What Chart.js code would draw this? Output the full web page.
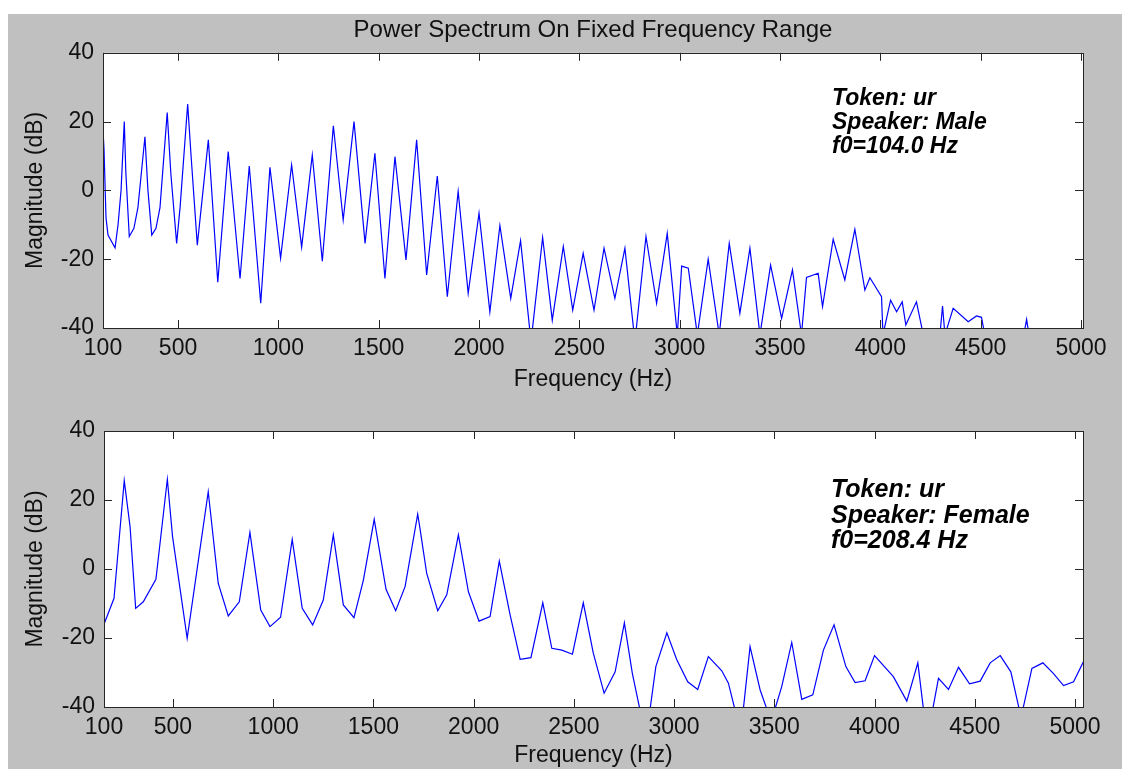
<!DOCTYPE html>
<html>
<head>
<meta charset="utf-8">
<title>Power Spectrum On Fixed Frequency Range</title>
<script src="https://cdn.jsdelivr.net/npm/chart.js"></script>
<style>
  html, body { margin: 0; padding: 0; background: #ffffff; }
  #figure { position: absolute; left: 8px; top: 14px; width: 1114px; height: 755px; background: #c0c0c0; }
  #male { position: absolute; left: 0; top: 0; }
  #female { position: absolute; left: 0; top: 390px; }
</style>
</head>
<body>
<div id="figure">
  <canvas id="male" width="1114" height="390"></canvas>
  <canvas id="female" width="1114" height="365"></canvas>
</div>
<script>
/* ---- data ---- */
const yTickValues = [-40, -20, 0, 20, 40];
const xTickValues = [500, 1000, 1500, 2000, 2500, 3000, 3500, 4000, 4500, 5000];
const xTickLabels = ['100', '500', '1000', '1500', '2000', '2500', '3000', '3500', '4000', '4500', '5000'];

// male speaker, f0 = 104 Hz
const maleFreq = [126, 131, 141, 151, 186, 201, 216, 232, 240, 257, 280, 300, 335, 350, 369, 390, 410, 446, 464, 493,
  510, 548, 565, 596, 651, 698, 750, 809, 855, 912, 958, 1011, 1066, 1116, 1169, 1219, 1274, 1323, 1377, 1432,
  1481, 1531, 1581, 1636, 1689, 1739, 1792, 1842, 1896, 1946, 2000, 2054, 2104, 2158, 2207, 2259, 2317, 2365, 2420, 2467,
  2519, 2573, 2623, 2677, 2727, 2777, 2832, 2885, 2938, 2988, 3010, 3043, 3088, 3142, 3197, 3247, 3300, 3350, 3400, 3453,
  3508, 3562, 3607, 3632, 3690, 3712, 3765, 3823, 3873, 3923, 3948, 4006, 4013, 4051, 4081, 4109, 4127, 4180, 4214, 4262,
  4297, 4310, 4322, 4363, 4438, 4479, 4504, 4521, 4715, 4729, 4741, 5010];
const maleDb = [17.6, 12, -8, -13, -16.7, -10, 0, 20, 5, -13.4, -11, -5, 15.6, 0, -13, -11, -5, 22.6, 5, -15.4,
  -5, 25.1, 10, -15.9, 14.7, -26.7, 11.3, -25.6, 7.1, -32.8, 6.7, -19.7, 7.4, -16.5, 10.3, -20.6, 18.8, -8.6, 20, -15.4,
  10.8, -25.6, 9.8, -20.2, 14.7, -24.6, 4.2, -30.9, -0.3, -29.9, -6.6, -35.3, -10.2, -31.4, -14.6, -44, -13.7, -37.7, -16.3, -34.8,
  -18.3, -34.8, -16.8, -31.4, -16.8, -44, -13.4, -32.8, -12.5, -42, -22, -22.6, -42, -20, -42, -15.4, -35.7, -16.8, -42, -21.7,
  -37.2, -23.1, -42, -25.3, -24.1, -33.8, -14.2, -26, -11.3, -29, -25.4, -30.9, -42, -31.9, -35.3, -32.4, -39.1, -32.4, -42, -40.5,
  -42, -33.6, -42, -34.3, -38.2, -36.5, -36.9, -42, -42, -37.5, -42, -42];

// female speaker, f0 = 208.4 Hz
const femaleFreq = [156, 206, 219, 257, 286, 314, 352, 415, 472, 498, 571, 676, 726, 776, 831, 884, 938, 984, 1037, 1095,
  1145, 1197, 1250, 1300, 1350, 1403, 1450, 1504, 1563, 1611, 1658, 1721, 1733, 1766, 1821, 1866, 1924, 1974, 2027, 2082,
  2128, 2182, 2232, 2286, 2345, 2390, 2440, 2493, 2547, 2597, 2651, 2706, 2752, 2792, 2834, 2877, 2909, 2964, 3013, 3068,
  3118, 3171, 3238, 3271, 3309, 3343, 3379, 3429, 3471, 3496, 3537, 3587, 3637, 3692, 3745, 3798, 3857, 3903, 3953, 4000,
  4094, 4161, 4216, 4247, 4286, 4319, 4369, 4419, 4474, 4527, 4577, 4627, 4680, 4727, 4735, 4785, 4840, 4893, 4943, 4993, 5042];
const femaleDb = [-16, -8.5, 0.2, 25.6, 12.3, -11.4, -9.5, -3, 26, 9.4, -20.1, 22.4, -4.2, -13.6, -9.5, 10.6, -11.9, -16.7, -14, 8.6,
  -11.4, -16.2, -9, 9.9, -10.4, -14.1, -3.2, 14.4, -5.9, -12.1, -5.1, 15.9, 11.5, -1.3, -12.1, -7.5, 9.9, -6.6, -15.1, -13.8,
  2.3, -13.3, -26.2, -25.7, -9.8, -23, -23.5, -24.7, -9.8, -24.4, -36, -29.8, -15.6, -30.3, -42, -42, -28.3, -18.5, -26.2, -32.7,
  -34.9, -25.4, -29.5, -33.1, -42, -42, -22.5, -35, -42, -42, -34.1, -21.3, -37.8, -36.5, -23.5, -16.2, -28.3, -32.9, -32.4, -25.1,
  -31.2, -38.3, -27.2, -42, -42, -31.7, -34.9, -28.5, -33.3, -32.5, -27.2, -25.1, -29.8, -42, -42, -28.8, -27.2, -30.3, -33.8, -32.7, -26.9];

const maleNote = ['Token: ur', 'Speaker: Male', 'f0=104.0 Hz'];
const femaleNote = ['Token: ur', 'Speaker: Female', 'f0=208.4 Hz'];

/* ---- drawing ---- */
const FAMILY = "'Liberation Sans', Arial, sans-serif";
const INK = '#111111';

// white axes box, inward ticks on all four sides
const framePlugin = {
    id: 'frame',
    beforeDatasetsDraw(chart) {
        const a = chart.chartArea;
        const ctx = chart.ctx;
        ctx.save();
        ctx.fillStyle = '#ffffff';
        ctx.fillRect(a.left, a.top, a.right - a.left, a.bottom - a.top);
        ctx.restore();
    },
    afterDatasetsDraw(chart) {
        const a = chart.chartArea;
        const ctx = chart.ctx;
        const len = 8;
        ctx.save();
        ctx.strokeStyle = '#262626';
        ctx.lineWidth = 1;
        ctx.beginPath();
        chart.scales.x.ticks.forEach(t => {
            const px = Math.round(chart.scales.x.getPixelForValue(t.value)) + 0.5;
            ctx.moveTo(px, a.top); ctx.lineTo(px, a.top + len);
            ctx.moveTo(px, a.bottom); ctx.lineTo(px, a.bottom - len);
        });
        chart.scales.y.ticks.forEach(t => {
            const py = Math.round(chart.scales.y.getPixelForValue(t.value)) + 0.5;
            ctx.moveTo(a.left, py); ctx.lineTo(a.left + len, py);
            ctx.moveTo(a.right, py); ctx.lineTo(a.right - len, py);
        });
        ctx.stroke();
        ctx.strokeRect(Math.round(a.left) + 0.5, Math.round(a.top) + 0.5,
            Math.round(a.right - a.left), Math.round(a.bottom - a.top));
        ctx.restore();
    }
};

// the bold italic text block inside each axes
const notesPlugin = {
    id: 'notes',
    afterDraw(chart, args, opts) {
        if (!opts.lines) return;
        const a = chart.chartArea;
        const ctx = chart.ctx;
        ctx.save();
        ctx.fillStyle = '#000000';
        ctx.font = 'italic bold ' + opts.size + 'px ' + FAMILY;
        ctx.textBaseline = 'alphabetic';
        opts.lines.forEach((line, i) => {
            ctx.fillText(line, a.left + opts.dx, a.top + opts.dy + i * opts.step);
        });
        ctx.restore();
    }
};

function makeChart(id, freq, db, cfg) {
    const points = freq.map((f, i) => ({ x: f, y: db[i] }));
    const tickFont = { family: FAMILY, size: 23 };
    return new Chart(document.getElementById(id), {
        type: 'line',
        data: {
            datasets: [{
                data: points,
                borderColor: '#0000ff',
                borderWidth: 1.2,
                pointRadius: 0,
                tension: 0,
                fill: false
            }]
        },
        options: {
            responsive: false,
            animation: false,
            devicePixelRatio: 1,
            layout: { padding: { left: 0, top: cfg.padTop, right: 39, bottom: 0 } },
            plugins: {
                legend: { display: false },
                tooltip: { enabled: false },
                title: cfg.title ? {
                    display: true,
                    text: cfg.title,
                    fullSize: false,
                    color: INK,
                    font: { family: FAMILY, size: 24, weight: 'normal' },
                    padding: { top: 2, bottom: 8 }
                } : { display: false },
                notes: cfg.notes
            },
            scales: {
                x: {
                    type: 'linear',
                    min: cfg.xMin,
                    max: cfg.xMax,
                    afterBuildTicks: s => {
                        s.ticks = [cfg.xMin].concat(xTickValues).map(v => ({ value: v }));
                    },
                    afterFit: s => { s.height = cfg.xAxisH; },
                    ticks: {
                        callback: (v, i) => xTickLabels[i],
                        autoSkip: false,
                        maxRotation: 0,
                        padding: 7,
                        color: INK,
                        font: tickFont
                    },
                    grid: { display: false, drawTicks: false },
                    border: { display: false },
                    title: {
                        display: true,
                        text: 'Frequency (Hz)',
                        color: INK,
                        font: tickFont,
                        padding: { top: 0, bottom: cfg.xTitlePad }
                    }
                },
                y: {
                    min: -40,
                    max: 40,
                    afterBuildTicks: s => {
                        s.ticks = yTickValues.map(v => ({ value: v }));
                    },
                    afterFit: s => { s.width = cfg.yAxisW; },
                    ticks: {
                        padding: 9,
                        color: INK,
                        font: tickFont
                    },
                    grid: { display: false, drawTicks: false },
                    border: { display: false },
                    title: {
                        display: true,
                        text: 'Magnitude (dB)',
                        color: INK,
                        font: tickFont,
                        padding: { top: 14, bottom: 0 }
                    }
                }
            }
        },
        plugins: [framePlugin, notesPlugin]
    });
}

makeChart('male', maleFreq, maleDb, {
    title: 'Power Spectrum On Fixed Frequency Range',
    padTop: 0, xMin: 126, xMax: 5010, xAxisH: 76, yAxisW: 95, xTitlePad: 11,
    notes: { lines: maleNote, size: 23, dx: 729, dy: 52, step: 24.3 }
});

makeChart('female', femaleFreq, femaleDb, {
    title: null,
    padTop: 27, xMin: 156, xMax: 5040, xAxisH: 62, yAxisW: 96, xTitlePad: 0,
    notes: { lines: femaleNote, size: 25, dx: 727, dy: 66, step: 25.5 }
});
</script>
</body>
</html>
